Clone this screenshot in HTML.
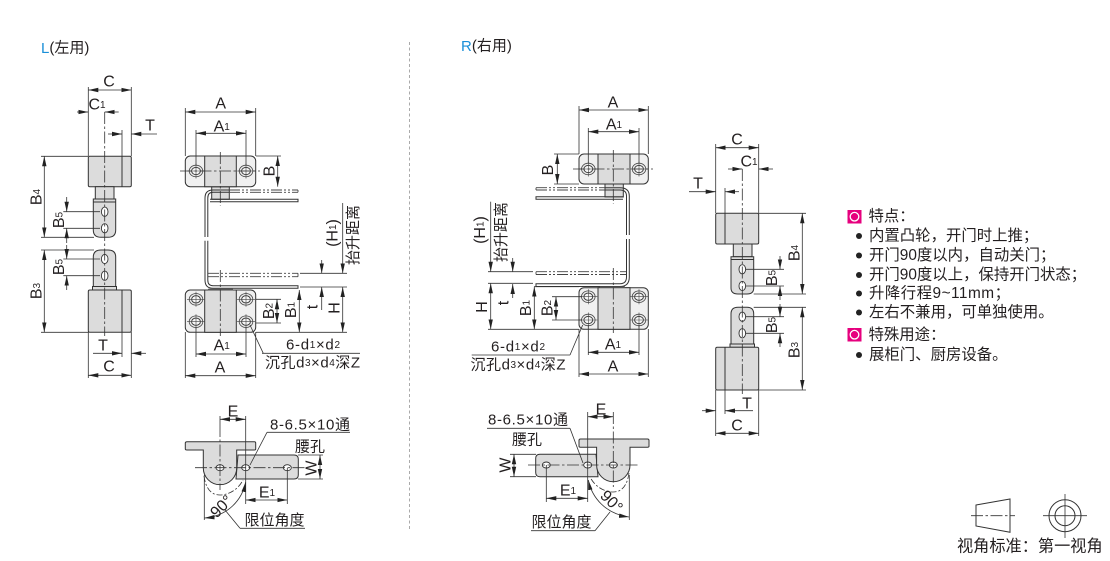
<!DOCTYPE html>
<html><head><meta charset="utf-8"><style>
html,body{margin:0;padding:0;background:#fff}
svg{display:block}
text{font-family:"Liberation Sans","Noto Sans CJK SC",sans-serif;fill:#231f20}
.t{font-size:16px;text-anchor:middle;dominant-baseline:central}
.z{font-size:15px;text-anchor:middle;dominant-baseline:central}
.c{font-size:15.4px;dominant-baseline:central}
.l{fill:none;stroke:#333;stroke-width:.8}
.d{fill:none;stroke:#333;stroke-width:.8;marker-end:url(#a)}
.b{fill:none;stroke:#333;stroke-width:.8;marker-start:url(#a);marker-end:url(#a)}
.g{fill:#dcdcdc;stroke:#333;stroke-width:1}
.w{fill:#f0f0f0;stroke:#333;stroke-width:1}
.o{fill:none;stroke:#333;stroke-width:1}
.ct{fill:none;stroke:#333;stroke-width:.8;stroke-dasharray:12 2.5 2.5 2.5}
.m{fill:none;stroke:#444;stroke-width:.9;stroke-dasharray:11 2 2 2 2 2}
</style></head><body>
<svg width="1110" height="561" viewBox="0 0 1110 561" xmlns="http://www.w3.org/2000/svg">
<defs>
<marker id="a" markerUnits="userSpaceOnUse" viewBox="0 0 10 6" refX="10" refY="3" markerWidth="10" markerHeight="6" orient="auto-start-reverse"><path d="M0 .8L10 3L0 5.2Z" fill="#222"/></marker>
<g id="h"><ellipse rx="6.8" ry="5.8" fill="#eaeaea" stroke="#444" stroke-width=".8"/><ellipse rx="4.4" ry="3.6" fill="#f6f6f6" stroke="#333" stroke-width=".9"/><path d="M-9 0H9M0 -7.5V7.5" stroke="#444" stroke-width=".6"/></g>
<g id="s"><ellipse rx="3.3" ry="4.6" fill="#fff" stroke="#333" stroke-width=".9"/></g>
<g id="w"><ellipse rx="4" ry="3" fill="#fff" stroke="#333" stroke-width=".9"/></g>
</defs>

<line x1="409.5" y1="42" x2="409.5" y2="530" stroke="#aaa" stroke-width="1" stroke-dasharray="3 2.5"/>
<text x="41" y="48" font-size="15" dominant-baseline="central"><tspan style="fill:#1a8fd8">L</tspan>(左用)</text>
<text x="461" y="46" font-size="15" dominant-baseline="central"><tspan style="fill:#1a8fd8">R</tspan>(右用)</text>

<!-- LEFT SIDE VIEW -->
<rect class="g" x="88.3" y="156.3" width="43" height="30.4" rx="1.5"/><line class="o" x1="122" y1="156.3" x2="122" y2="186.7"/>
<rect class="g" x="95.3" y="186.7" width="18.7" height="12.3"/>
<path class="g" d="M93.3 199H115.7V230Q115.7 237.3 108 237.3H101Q93.3 237.3 93.3 230Z"/><line class="o" x1="93.3" y1="202" x2="115.7" y2="202"/>
<path class="g" d="M93.3 288V257Q93.3 250 101 250H108Q115.7 250 115.7 257V288Z"/>
<rect class="g" x="92.5" y="286.5" width="24" height="4"/>
<rect class="g" x="88.3" y="290" width="43" height="42.3" rx="1.5"/><line class="o" x1="122" y1="290" x2="122" y2="332.3"/>
<use href="#s" x="104.7" y="211.7"/><use href="#s" x="104.7" y="228.3"/><use href="#s" x="104.7" y="259"/><use href="#s" x="104.7" y="275.7"/>
<path class="ct" d="M104.7 112V336"/>
<path class="l" d="M88.3 87V156M131.3 87V156M122 130V156M41 156.3H88M41 237.3H94M41 250H94M41 332.3H88M63.3 211.7H100M63.3 228.3H100M63.3 259H100M63.3 275.7H100M88.3 332V378M131.3 332V378M122 332V357"/>
<path class="b" d="M88.3 90H131.3"/><text class="t" x="109" y="82">C</text>
<path class="d" d="M77 112H88.3"/><path class="d" d="M118.7 112H104.7"/><text class="t" x="97" y="105">C<tspan font-size="10">1</tspan></text>
<path class="d" d="M108 134H122"/><path class="d" d="M157 134H131.3"/><text class="t" x="150" y="126">T</text>
<path class="b" d="M44.3 156.3V237.3"/><text class="t" transform="rotate(-90 37 197)" x="37" y="197">B<tspan font-size="10">4</tspan></text>
<path class="b" d="M44.3 250V332.3"/><text class="t" transform="rotate(-90 37 291)" x="37" y="291">B<tspan font-size="10">3</tspan></text>
<path class="d" d="M66.7 197V211.7"/><path class="d" d="M66.7 243V228.3"/><text class="t" transform="rotate(-90 59.5 220)" x="59.5" y="220">B<tspan font-size="10">5</tspan></text>
<path class="d" d="M66.7 245V259"/><path class="d" d="M66.7 290V275.7"/><text class="t" transform="rotate(-90 59.5 267)" x="59.5" y="267">B<tspan font-size="10">5</tspan></text>
<path class="d" d="M93 353.3H122"/><path class="d" d="M146 353.3H131.3"/><text class="t" x="103" y="346">T</text>
<path class="b" d="M88.3 375.3H131.3"/><text class="t" x="109" y="367">C</text>

<!-- LEFT FRONT VIEW -->
<rect class="g" x="211.7" y="186.7" width="17.6" height="12.6" stroke-width=".8"/>
<path class="o" d="M229 190H213Q205 190 205 198V237M229 192.3H213Q207.8 192.3 207.8 198V237"/>
<path class="m" d="M229 190H298M229 192.3H298"/><path class="l" d="M298 190V192.3"/>
<path class="o" d="M210 199.3H298V201.7H210"/>
<path class="o" d="M205 240.7V280Q205 288.3 213 288.3H298V285.7H213Q207.8 285.7 207.8 280V240.7"/>
<path class="m" d="M208 273.3H298M208 276.7H298"/><path class="l" d="M298 273.3V276.7"/>
<rect class="w" x="185.3" y="156" width="70.4" height="30.7" rx="5"/><rect class="g" x="204.7" y="156" width="31.6" height="30.7"/>
<rect class="w" x="185.3" y="290" width="70.4" height="42.3" rx="5"/><rect class="g" x="204.7" y="290" width="31.6" height="42.3"/>
<rect x="208" y="288.7" width="25" height="1.6" fill="#555"/>
<use href="#h" x="196" y="171"/><use href="#h" x="246" y="171"/>
<use href="#h" x="196" y="299.3"/><use href="#h" x="246" y="299.3"/><use href="#h" x="196" y="321.7"/><use href="#h" x="246" y="321.7"/>
<path class="ct" d="M180 171H260M220.3 152V206M220.3 270V336"/>
<path class="l" d="M185.3 108V156M255.7 108V156M196 130V165M246 130V165M256 156H281M185.3 332V378M255.7 332V378M196 327V357M246 327V357M256 299.3H281M256 323H281M300 273.3H347M300 287H347M256 332.3H347M262 353.3H360M250 325L263.3 353.3"/>
<path class="b" d="M185.3 112H255.7"/><text class="t" x="220.7" y="104">A</text>
<path class="b" d="M196 133.3H246"/><text class="t" x="221.7" y="127">A<tspan font-size="10">1</tspan></text>
<path class="b" d="M277.7 156V186.7"/><text class="t" transform="rotate(-90 270 171)" x="270" y="171">B</text>
<path class="b" d="M185.3 375.7H255.7"/><text class="t" x="220" y="368">A</text>
<path class="b" d="M196 354H246"/><text class="t" x="221.7" y="346">A<tspan font-size="10">1</tspan></text>
<path class="b" d="M277 299.3V323"/><text class="t" transform="rotate(-90 269.5 311)" x="269.5" y="311">B<tspan font-size="10">2</tspan></text>
<path class="b" d="M299.3 290V332.3"/><text class="t" transform="rotate(-90 291.7 310)" x="291.7" y="310">B<tspan font-size="10">1</tspan></text>
<path class="d" d="M321.7 260V273.3"/><path class="d" d="M321.7 310V287"/><text class="t" transform="rotate(-90 313 307)" x="313" y="307">t</text>
<path class="d" d="M342.7 203V273.3"/><path class="b" d="M342.7 287V332.3"/><text class="t" transform="rotate(-90 335 308)" x="335" y="308">H</text>
<text class="t" transform="rotate(-90 333 233)" x="333" y="233">(H<tspan font-size="10">1</tspan>)</text>
<text class="z" transform="rotate(-90 353.5 235)" x="353.5" y="235">抬升距离</text>
<text class="z" x="313" y="345" textLength="54">6-d<tspan font-size="10">1</tspan>×d<tspan font-size="10">2</tspan></text>
<text class="z" x="312.5" y="363" textLength="95">沉孔d<tspan font-size="10">3</tspan>×d<tspan font-size="10">4</tspan>深Z</text>

<!-- LEFT BOTTOM VIEW -->
<path class="g" d="M238 455H294Q298.3 455 298.3 459V475Q298.3 479 294 479H246L236 479Z"/>
<path class="g" d="M187 441.7H254.5Q255.7 441.7 255.7 443V449Q255.7 450 254.5 450H236.7V468A16.7 16.7 0 0 1 203.3 468V450H187Q185.3 450 185.3 449V443Q185.3 441.7 187 441.7Z"/>
<use href="#w" x="220" y="467.7"/><use href="#w" x="245.7" y="467.7"/><use href="#w" x="287.3" y="467.7"/>
<path class="ct" d="M195 467.7H305M220 425V490"/>
<path class="l" d="M245.7 416V504M220 416V425M287.3 468V504M298 455H323M298 479H323M204.3 475V520M240 528.3H305M225 510L240 528.3M267 432.3H350M267 432.3L250 465"/>
<path d="M204 476C206 490 212 495 220 495S238 490 243 480" fill="none" stroke="#333" stroke-width=".8" stroke-dasharray="6 2 2 2"/>
<path class="b" d="M245.7 482C242 500 228 516 204.5 518"/>
<path class="b" d="M220 419.3H245.7"/><text class="t" x="233" y="412">E</text>
<path class="b" d="M245.7 500H287.3"/><text class="t" x="267" y="493">E<tspan font-size="10">1</tspan></text>
<path class="b" d="M320 455V479"/><text class="t" transform="rotate(-90 312 468)" x="312" y="468">W</text>
<text class="t" transform="rotate(-45 222 507)" x="222" y="507">90°</text>
<text class="z" x="310" y="425" textLength="80">8-6.5×10通</text>
<text class="z" x="310" y="447">腰孔</text>
<text class="z" x="274.5" y="520.7">限位角度</text>

<!-- RIGHT FRONT VIEW -->
<rect class="g" x="605" y="184" width="18.3" height="13" stroke-width=".8"/>
<path class="o" d="M605 187.7H620Q629.3 187.7 629.3 196V235M605 190H620Q626.5 190 626.5 196V235"/>
<path class="m" d="M536 187.7H605M536 190H605"/><path class="l" d="M536 187.7V190"/>
<path class="o" d="M623 196.7H536V199.3H623"/>
<path class="o" d="M629.3 239V277Q629.3 286.5 620 286.5H536V283.7H620Q626.5 283.7 626.5 277V239"/>
<path class="m" d="M536 271.7H626M536 274.5H626"/><path class="l" d="M536 271.7V274.5"/>
<rect class="w" x="579" y="154" width="69.3" height="30" rx="5"/><rect class="g" x="598" y="154" width="32" height="30"/>
<rect class="w" x="579" y="287.7" width="69.3" height="41.6" rx="5"/><rect class="g" x="598" y="287.7" width="32" height="41.6"/>
<rect x="600" y="286.4" width="25" height="1.6" fill="#555"/>
<use href="#h" x="588.3" y="169"/><use href="#h" x="639" y="169"/>
<use href="#h" x="588.3" y="296.7"/><use href="#h" x="639" y="296.7"/><use href="#h" x="588.3" y="320"/><use href="#h" x="639" y="320"/>
<path class="ct" d="M573 169H653M613.3 150V204M613.3 268V333"/>
<path class="l" d="M579 106V154M648.3 106V154M588.3 128V163M639 128V163M554 154H579M554 184H579M579 329V377M648.3 329V377M588.3 325V355M639 325V355M552 296.7H582M552 320H582M488 271.7H533M488 283.3H533M488 329.3H579M534 286.7H579M471.7 355H570M570 355L582.7 325"/>
<path class="b" d="M579 110H648.3"/><text class="t" x="613" y="103">A</text>
<path class="b" d="M588.3 131.7H639"/><text class="t" x="614" y="125">A<tspan font-size="10">1</tspan></text>
<path class="b" d="M557.3 154V184"/><text class="t" transform="rotate(-90 548.5 170)" x="548.5" y="170">B</text>
<path class="b" d="M579 374H648.3"/><text class="t" x="613" y="367">A</text>
<path class="b" d="M588.3 352.3H639"/><text class="t" x="613" y="345">A<tspan font-size="10">1</tspan></text>
<path class="b" d="M556 296.7V320"/><text class="t" transform="rotate(-90 548 308)" x="548" y="308">B<tspan font-size="10">2</tspan></text>
<path class="b" d="M534.3 286.7V329.3"/><text class="t" transform="rotate(-90 526.7 308)" x="526.7" y="308">B<tspan font-size="10">1</tspan></text>
<path class="d" d="M512.7 258V271.7"/><path class="d" d="M512.7 298V284"/><text class="t" transform="rotate(-90 504 303)" x="504" y="303">t</text>
<path class="d" d="M490.7 201.7V271.7"/><path class="b" d="M490.7 283.3V329.3"/><text class="t" transform="rotate(-90 482.7 307)" x="482.7" y="307">H</text>
<text class="t" transform="rotate(-90 480.5 230)" x="480.5" y="230">(H<tspan font-size="10">1</tspan>)</text>
<text class="z" transform="rotate(-90 501.7 232)" x="501.7" y="232">抬升距离</text>
<text class="z" x="518" y="347" textLength="54">6-d<tspan font-size="10">1</tspan>×d<tspan font-size="10">2</tspan></text>
<text class="z" x="518" y="365" textLength="95">沉孔d<tspan font-size="10">3</tspan>×d<tspan font-size="10">4</tspan>深Z</text>

<!-- RIGHT SIDE VIEW -->
<rect class="g" x="715.7" y="213.3" width="43" height="30.7" rx="1.5"/><line class="o" x1="725" y1="213.3" x2="725" y2="244"/>
<rect class="g" x="733.3" y="244" width="18.7" height="12.7"/>
<path class="g" d="M731 256.7H753.7V288Q753.7 294 747 294H738Q731 294 731 288Z"/><line class="o" x1="731" y1="259.5" x2="753.7" y2="259.5"/>
<path class="g" d="M731 345V314Q731 307.3 738 307.3H747Q753.7 307.3 753.7 314V345Z"/>
<rect class="g" x="730" y="344" width="24.5" height="3.3"/>
<rect class="g" x="715.7" y="347.3" width="43" height="42.7" rx="1.5"/><line class="o" x1="725" y1="347.3" x2="725" y2="390"/>
<use href="#s" x="742.3" y="269.3"/><use href="#s" x="742.3" y="286"/><use href="#s" x="742.3" y="316.7"/><use href="#s" x="742.3" y="333.3"/>
<path class="ct" d="M742.3 169V394"/>
<path class="l" d="M715.7 144V213M758.7 144V213M725 188V213M758.7 213.3H806M753.7 294H806M753.7 307.3H806M758.7 390H806M746 269.3H784M746 286H784M746 316.7H784M746 333.3H784M715.7 390V436M758.7 390V436M725 390V414"/>
<path class="b" d="M715.7 147.7H758.7"/><text class="t" x="737" y="140">C</text>
<path class="d" d="M728 169H742.3"/><path class="d" d="M773 169H758.7"/><text class="t" x="749" y="162">C<tspan font-size="10">1</tspan></text>
<path class="d" d="M689 191.7H715.7"/><path class="d" d="M739 191.7H725"/><text class="t" x="698" y="184">T</text>
<path class="b" d="M802.3 213.3V294"/><text class="t" transform="rotate(-90 795 253)" x="795" y="253">B<tspan font-size="10">4</tspan></text>
<path class="b" d="M802.3 307.3V390"/><text class="t" transform="rotate(-90 795 350)" x="795" y="350">B<tspan font-size="10">3</tspan></text>
<path class="d" d="M780 256V269.3"/><path class="d" d="M780 300V286"/><text class="t" transform="rotate(-90 772.7 278)" x="772.7" y="278">B<tspan font-size="10">5</tspan></text>
<path class="d" d="M780 304V316.7"/><path class="d" d="M780 347V333.3"/><text class="t" transform="rotate(-90 772.7 325)" x="772.7" y="325">B<tspan font-size="10">5</tspan></text>
<path class="d" d="M702 410.7H715.7"/><path class="d" d="M753 410.7H725"/><text class="t" x="747" y="404">T</text>
<path class="b" d="M715.7 433.3H758.7"/><text class="t" x="737" y="426">C</text>

<!-- RIGHT BOTTOM VIEW -->
<path class="g" d="M596 454.3H540Q535.7 454.3 535.7 458.5V472.5Q535.7 476.7 540 476.7H588L598 476.7Z"/>
<path class="g" d="M580.5 439H647.5Q649 439 649 440.5V446.3Q649 447.3 647.5 447.3H630V465A16.7 16.7 0 0 1 596.6 465V447.3H580.5Q579 447.3 579 446.3V440.5Q579 439 580.5 439Z"/>
<use href="#w" x="613.3" y="465"/><use href="#w" x="587.7" y="465"/><use href="#w" x="546.3" y="465"/>
<path class="ct" d="M528 465H640M613.3 412V487"/>
<path class="l" d="M587.7 412V502M546.3 465V502M510 454.3H536M510 476.7H536M629.3 475V520M487 428.3H570M570 428.3L583 463M531 530.7H595M595 530.7L610 512"/>
<path d="M629 473C627 487 621 492 613 492S595 487 590 477" fill="none" stroke="#333" stroke-width=".8" stroke-dasharray="6 2 2 2"/>
<path class="b" d="M588.3 480C592 498 606 514 629 517"/>
<path class="b" d="M587.7 416.7H613.3"/><text class="t" x="601" y="410">E</text>
<path class="b" d="M546.3 498.3H587.7"/><text class="t" x="568" y="491">E<tspan font-size="10">1</tspan></text>
<path class="b" d="M514 454.3V476.7"/><text class="t" transform="rotate(-90 506 465)" x="506" y="465">W</text>
<text class="t" transform="rotate(45 611 502)" x="611" y="502">90°</text>
<text class="z" x="528" y="420" textLength="80">8-6.5×10通</text>
<text class="z" x="527" y="440">腰孔</text>
<text class="z" x="561.5" y="522.3">限位角度</text>

<!-- FEATURES -->
<rect x="847.5" y="210" width="14" height="13.5" fill="#e6007e"/><circle cx="854.5" cy="216.7" r="4.3" fill="none" stroke="#fff" stroke-width="1.3"/>
<text class="c" x="868.5" y="216.7">特点：</text>
<circle cx="859" cy="236" r="3" fill="#222"/><text class="c" x="869" y="236">内置凸轮，开门时上推；</text>
<circle cx="859" cy="255.5" r="3" fill="#222"/><text class="c" x="869" y="255.5">开门90度以内，自动关门；</text>
<circle cx="859" cy="275" r="3" fill="#222"/><text class="c" x="869" y="275">开门90度以上，保持开门状态；</text>
<circle cx="859" cy="293.5" r="3" fill="#222"/><text class="c" x="869" y="293.5" textLength="141">升降行程9~11mm；</text>
<circle cx="859" cy="312.5" r="3" fill="#222"/><text class="c" x="869" y="312.5">左右不兼用，可单独使用。</text>
<rect x="847.5" y="328" width="14" height="13.5" fill="#e6007e"/><circle cx="854.5" cy="334.7" r="4.3" fill="none" stroke="#fff" stroke-width="1.3"/>
<text class="c" x="868.5" y="335">特殊用途：</text>
<circle cx="859" cy="355" r="3" fill="#222"/><text class="c" x="869" y="355">展柜门、厨房设备。</text>

<!-- LEGEND -->
<path class="o" d="M976 505L1010 499V532.3L976 526Z"/>
<path class="ct" d="M971 515.7H1015"/>
<circle class="o" cx="1065" cy="515.7" r="16"/><circle class="o" cx="1065" cy="515.7" r="10"/>
<path class="l" d="M1043 515.7H1087M1065 494V538"/>
<text class="c" style="font-size:16.2px" x="957" y="546.5">视角标准：第一视角</text>
</svg>
</body></html>
